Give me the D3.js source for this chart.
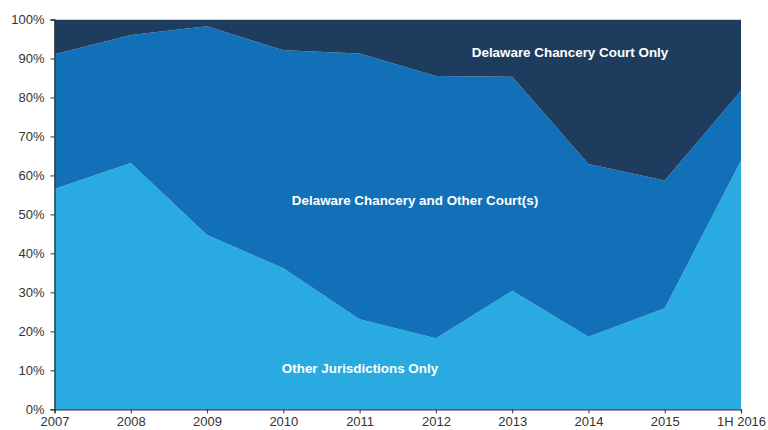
<!DOCTYPE html>
<html>
<head>
<meta charset="utf-8">
<style>
body { margin: 0; background: #fff; }
svg text { font-family: "Liberation Sans", Arial, sans-serif; }
</style>
<script src="https://d3js.org/d3.v7.min.js"></script>
</head>
<body>
<svg id="chart" width="768" height="430"></svg>
<script>
// years on the x axis
var years = ["2007", "2008", "2009", "2010", "2011", "2012", "2013", "2014", "2015", "1H 2016"];
// share of cases, percent
var otherOnly   = [56.5, 63.2, 44.7, 36.2, 23.1, 18.2, 30.4, 18.6, 25.9, 63.8];
var delAndOther = [34.6, 32.8, 53.6, 55.9, 68.2, 67.3, 54.9, 44.3, 32.8, 17.9];
var delOnly     = [8.9, 4.0, 1.7, 7.9, 8.7, 14.5, 14.7, 37.1, 41.3, 18.3];
var yTicks = [0, 10, 20, 30, 40, 50, 60, 70, 80, 90, 100];

var rows = years.map(function(y, i) {
  return { year: y, other: otherOnly[i], both: delAndOther[i], del: delOnly[i] };
});
var keys = ["other", "both", "del"];
var colors = { other: "#29abe2", both: "#1170b8", del: "#1e3d5e" };

var svg = d3.select("#chart");
var x = d3.scalePoint().domain(years).range([54.5, 741]);
var y = d3.scaleLinear().domain([0, 100]).range([409.3, 19.5]);

var series = d3.stack().keys(keys)(rows);

var area = d3.area()
  .x(function(d) { return x(d.data.year); })
  .y0(function(d) { return y(d[0]); })
  .y1(function(d) { return y(d[1]); });

svg.selectAll("path.layer")
  .data(series)
  .enter().append("path")
  .attr("class", "layer")
  .attr("fill", function(d) { return colors[d.key]; })
  .attr("d", area);

// light frame at top
svg.append("line")
  .attr("x1", x(years[0])).attr("x2", x(years[years.length - 1]))
  .attr("y1", y(100)).attr("y2", y(100))
  .attr("stroke", "#cfcfcf").attr("stroke-width", 1);

// axes
var yAxis = svg.append("g")
  .attr("transform", "translate(" + x(years[0]) + ",0)")
  .call(d3.axisLeft(y).tickValues(yTicks).tickSize(4).tickFormat(function(d) { return d + "%"; }));
var xAxis = svg.append("g")
  .attr("transform", "translate(0," + y(0) + ")")
  .call(d3.axisBottom(x).tickSize(4).tickPadding(3));

[yAxis, xAxis].forEach(function(g) {
  g.select(".domain").attr("stroke", "#333").attr("stroke-width", 1.3);
  g.selectAll(".tick line").attr("stroke", "#333");
  g.selectAll(".tick text").attr("fill", "#333").style("font-size", "13px")
    .style("font-family", "'Liberation Sans', Arial, sans-serif");
});
yAxis.selectAll(".tick text").attr("x", -10);

// series labels
var labels = [
  { text: "Delaware Chancery Court Only", x: 570, y: 57 },
  { text: "Delaware Chancery and Other Court(s)", x: 415, y: 205 },
  { text: "Other Jurisdictions Only", x: 360, y: 373 }
];
svg.selectAll("text.lbl")
  .data(labels)
  .enter().append("text")
  .attr("class", "lbl")
  .attr("x", function(d) { return d.x; })
  .attr("y", function(d) { return d.y; })
  .attr("text-anchor", "middle")
  .attr("fill", "#fff")
  .style("font-weight", "bold")
  .style("font-size", "13.4px")
  .text(function(d) { return d.text; });
</script>
</body>
</html>
